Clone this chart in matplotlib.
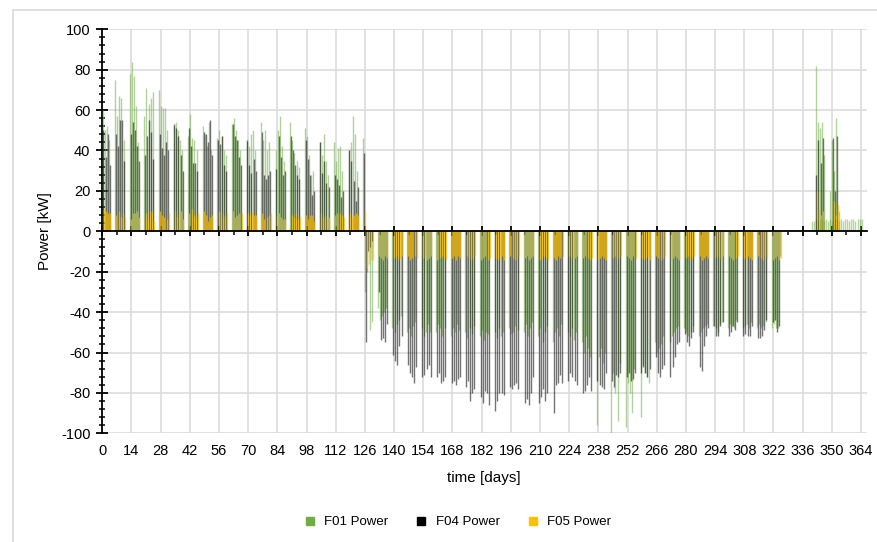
import numpy as np
import matplotlib
matplotlib.use("Agg")
import matplotlib.pyplot as plt
from matplotlib.lines import Line2D
from matplotlib.patches import Rectangle
from matplotlib.ticker import MultipleLocator, FixedLocator

plt.rcParams['font.family'] = ['Liberation Sans', 'DejaVu Sans']
plt.rcParams['axes.unicode_minus'] = False

# daily peak power [kW] per working day, one row of 5 days per week
# (week k covers days 7k-1 .. 7k+3; positive = heating, negative = cooling)
f01_weeks = [
    [0, 60, 50, 52, 45], [75, 57, 67, 66, 45], [78, 84, 77, 62, 44],
    [57, 71, 63, 66, 69], [70, 62, 61, 61, 50], [52, 54, 50, 45, 40],
    [47, 58, 46, 45, 40], [52, 48, 42, 54, 40], [46, 50, 47, 40, 38],
    [53, 56, 50, 45, 40], [44, 42, 48, 50, 40], [54, 45, 50, 40, 44],
    [40, 50, 57, 42, 35], [54, 45, 39, 35, 32], [51, 47, 38, 28, 30],
    [44, 38, 48, 35, 28], [44, 35, 41, 42, 30], [40, 44, 57, 48, 30],
    [46, -30, -20, -49, -45], [-38, -44, -42, -40, -38], [-48, -50, -46, -44, -42],
    [-50, -48, -52, -47, -45], [-48, -52, -50, -46, -50], [-50, -46, -48, -52, -48],
    [-52, -48, -50, -46, -49], [-50, -53, -48, -51, -47], [-52, -49, -54, -50, -51],
    [-50, -53, -48, -52, -50], [-48, -51, -50, -47, -49], [-50, -46, -52, -48, -45],
    [-52, -48, -55, -50, -47], [-55, -50, -48, -52, -46], [-50, -52, -48, -54, -50],
    [-55, -60, -52, -58, -62], [-96, -62, -58, -65, -60], [-100, -70, -80, -94, -65],
    [-97, -75, -80, -90, -68], [-92, -66, -70, -72, -75], [-55, -60, -58, -56, -52],
    [-55, -52, -50, -48, -47], [-48, -50, -52, -50, -47], [-52, -50, -48, -47, -46],
    [-47, -48, -50, -46, -45], [-48, -46, -47, -48, -44], [-48, -47, -46, -48, -45],
    [-48, -46, -48, -47, -45], [-48, -46, -48, -48, -12], [0, 0, 0, 0, 0],
    [0, 0, 0, 0, 0], [82, 54, 51, 54, 38], [20, 45, 30, 56, 10],
    [0, 0, 0, 0, 0], [0, 0, 0, 0, 0],
]
f04_weeks = [
    [0, 50, 37, 48, 33], [48, 42, 55, 55, 35], [48, 54, 50, 42, 35],
    [38, 47, 55, 49, 36], [48, 41, 38, 44, 40], [53, 51, 47, 38, 30],
    [51, 42, 34, 34, 30], [49, 48, 44, 55, 38], [45, 43, 47, 33, 30],
    [53, 47, 45, 37, 33], [45, 33, 29, 36, 30], [49, 28, 26, 28, 30],
    [31, 47, 37, 28, 30], [47, 40, 33, 28, 26], [45, 36, 28, 18, 20],
    [44, 29, 35, 24, 22], [28, 26, 23, 17, 20], [40, 35, 25, 15, 22],
    [39, -55, -10, -8, -5], [-30, -54, -53, -55, -46], [-61, -64, -66, -57, -52],
    [-66, -70, -72, -75, -67], [-72, -71, -68, -66, -72], [-72, -70, -75, -74, -72],
    [-75, -74, -76, -73, -72], [-77, -74, -84, -80, -78], [-82, -85, -79, -80, -86],
    [-89, -84, -80, -80, -81], [-77, -78, -76, -75, -78], [-85, -83, -86, -80, -72],
    [-85, -82, -78, -84, -80], [-90, -76, -75, -71, -75], [-74, -70, -72, -74, -76],
    [-80, -79, -76, -72, -79], [-74, -76, -77, -78, -70], [-74, -77, -71, -72, -70],
    [-72, -70, -74, -73, -70], [-70, -67, -70, -72, -68], [-62, -70, -72, -68, -66],
    [-72, -67, -62, -56, -55], [-51, -55, -57, -53, -50], [-67, -69, -57, -52, -48],
    [-47, -52, -52, -47, -45], [-52, -50, -47, -49, -45], [-52, -51, -52, -52, -47],
    [-53, -53, -52, -49, -44], [-45, -44, -50, -47, 0], [0, 0, 0, 0, 0],
    [0, 0, 0, 0, 0], [28, 45, 34, 46, 0], [0, 46, 20, 47, 0],
    [0, 0, 0, 0, 0], [0, 0, 0, 0, 0],
]
f05_weeks = [
    [0, 11, 10, 9, 9], [8, 10, 7, 9, 7], [6, 9, 9, 10, 7],
    [9, 6, 10, 10, 5], [10, 8, 7, 6, 9], [10, 7, 9, 10, 6],
    [9, 11, 8, 7, 9], [10, 8, 5, 7, 8], [10, 9, 7, 8, 9],
    [10, 7, 8, 9, 9], [9, 8, 10, 8, 8], [9, 6, 7, 8, 9],
    [8, 9, 7, 6, 6], [8, 7, 9, 6, 7], [8, 6, 8, 8, 5],
    [9, 7, 8, 6, 7], [8, 9, 9, 8, 7], [9, 7, 8, 9, 8],
    [10, -18, -16, -14, -14], [-12, -13, -14, -12, -13], [-13, -12, -14, -13, -12],
    [-12, -14, -13, -12, -13], [-13, -12, -14, -13, -12], [-14, -13, -12, -13, -14],
    [-13, -12, -14, -12, -13], [-12, -13, -14, -13, -12], [-14, -13, -12, -14, -13],
    [-13, -14, -13, -12, -14], [-12, -13, -14, -13, -12], [-13, -12, -14, -13, -12],
    [-14, -13, -12, -13, -14], [-13, -14, -12, -13, -12], [-12, -13, -14, -13, -12],
    [-13, -12, -13, -14, -13], [-14, -13, -12, -13, -14], [-13, -12, -14, -13, -12],
    [-12, -13, -14, -12, -13], [-13, -14, -13, -12, -14], [-12, -13, -14, -13, -12],
    [-14, -13, -12, -13, -14], [-13, -12, -14, -13, -12], [-12, -14, -13, -12, -13],
    [-13, -12, -13, -14, -12], [-12, -13, -14, -13, -12], [-13, -14, -12, -13, -14],
    [-12, -13, -14, -12, -13], [-14, -13, -12, -14, -13], [0, 0, 0, 0, 0],
    [0, 0, 0, 0, 0], [20, 11, 8, 10, 0], [0, 15, 8, 13, 0],
    [0, 0, 0, 0, 0], [0, 0, 0, 0, 0],
]
# F01 standby load at the end of the year (every day)
f01_tail_days = list(range(340, 365))
f01_tail = [5, 5, 6, 5, 6, 6, 5, 6, 5, 6, 5, 6, 6, 5, 6, 5, 6, 6, 5, 6, 6, 5, 6, 6, 6]

workday_offsets = [-1, 0, 1, 2, 3]


def expand(weeks):
    '''Turn weekly rows into (day, value) arrays, dropping empty days.'''
    days, vals = [], []
    for k, week in enumerate(weeks):
        for off, v in zip(workday_offsets, week):
            d = 7 * k + off
            if v != 0 and 0 <= d <= 364:
                days.append(d)
                vals.append(v)
    return np.array(days, dtype=float), np.array(vals)


green = '#70AD47'
yellow = '#FFC000'
lw = 1.0

fig = plt.figure(figsize=(8.77, 5.42), dpi=100)
ax = fig.add_axes([102.3 / 877, 1 - 433.3 / 542, (867.3 - 102.3) / 877, (433.3 - 29.3) / 542])

d04, v04 = expand(f04_weeks)
d01, v01 = expand(f01_weeks)
d05, v05 = expand(f05_weeks)
# hourly profiles rise at slightly different hours -> small offsets within the day
ax.vlines(np.array(f01_tail_days) + 0.3, 0, f01_tail, colors=green, alpha=0.5, lw=lw, zorder=3)
ax.vlines(d01 + 0.2, 0, v01, colors=green, alpha=0.55, lw=lw, zorder=3)
ax.vlines(d04 + 0.55, 0, v04, colors='black', alpha=0.55, lw=lw, zorder=4)
ax.vlines(d05 + 0.8, 0, v05, colors=yellow, alpha=0.7, lw=lw, zorder=5)

ax.set_xlim(0, 367)
ax.set_ylim(-100, 100)

ax.xaxis.set_major_locator(MultipleLocator(14))
ax.xaxis.set_minor_locator(MultipleLocator(7))
ax.yaxis.set_major_locator(MultipleLocator(20))
ax.yaxis.set_minor_locator(MultipleLocator(4))
ax.grid(True, which='major', color='#D9D9D9', lw=1.1, zorder=0)
ax.set_axisbelow(True)

for s in ['top', 'right']:
    ax.spines[s].set_visible(False)
ax.spines['bottom'].set_position(('data', 0))
ax.spines['bottom'].set_zorder(6)
ax.spines['bottom'].set_linewidth(1.3)
ax.spines['left'].set_linewidth(1.3)

ax.tick_params(axis='x', which='major', direction='inout', length=7, width=1.3, labelbottom=False)
ax.tick_params(axis='x', which='minor', direction='out', length=3, width=1.1)
ax.tick_params(axis='y', which='major', direction='inout', length=9, width=1.3, labelsize=10.5, pad=4)
ax.tick_params(axis='y', which='minor', direction='inout', length=4, width=1.1)

# day labels below the plot, as in the original layout
sec = ax.secondary_xaxis(0)
sec.xaxis.set_major_locator(FixedLocator(list(range(0, 365, 14))))
sec.spines['bottom'].set_visible(False)
sec.tick_params(axis='x', length=0, pad=8, labelsize=10.5)

fig.text(484 / 877, 1 - 478 / 542, 'time [days]', ha='center', va='center', fontsize=11)
fig.text(45 / 877, 1 - 231 / 542, 'Power [kW]', ha='center', va='center', rotation=90, fontsize=11)

handles = [Line2D([], [], ls='', marker='s', ms=6, color=c) for c in (green, 'black', yellow)]
fig.legend(handles, ['F01 Power', 'F04 Power', 'F05 Power'], loc='center',
           bbox_to_anchor=(454 / 877, 1 - 522 / 542), ncol=3, frameon=False,
           fontsize=9.5, handletextpad=0.1, columnspacing=1.5)

fig.patches.append(Rectangle((13 / 877, -0.05), 1.0, 1 - 10 / 542 + 0.05,
                             transform=fig.transFigure, fill=False,
                             edgecolor='#D9D9D9', lw=1.2))

fig.savefig('out.png', dpi=100)
